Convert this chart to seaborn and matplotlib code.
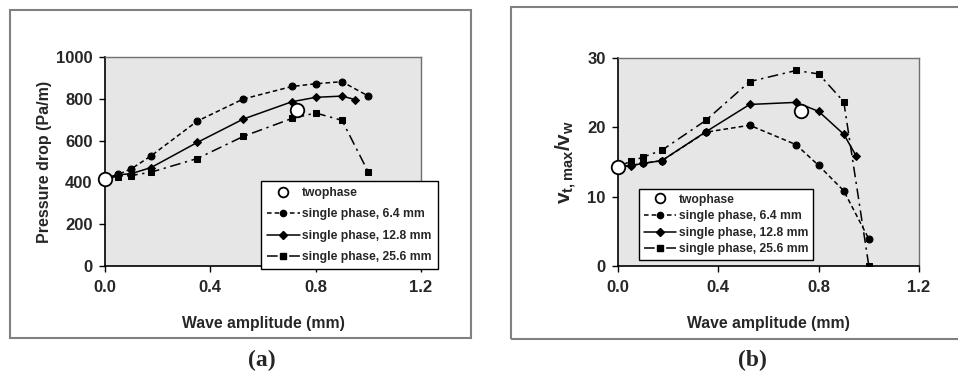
import matplotlib
matplotlib.use("Agg")
import matplotlib.pyplot as plt
from matplotlib.patches import Rectangle
from matplotlib.lines import Line2D
import seaborn as sns
import pandas as pd

# ---------------- data ----------------
amp_64 = [0.0, 0.05, 0.10, 0.175, 0.35, 0.525, 0.71, 0.80, 0.90, 1.00]
amp_128 = [0.0, 0.05, 0.10, 0.175, 0.35, 0.525, 0.71, 0.80, 0.90, 0.95]
amp_256 = [0.0, 0.05, 0.10, 0.175, 0.35, 0.525, 0.71, 0.80, 0.90, 1.00]
amp_two = [0.0, 0.73]

dp_64 = [420, 438, 465, 527, 693, 799, 859, 872, 882, 813]
dp_128 = [420, 436, 442, 471, 591, 703, 786, 807, 813, 796]
dp_256 = [420, 428, 433, 449, 514, 620, 706, 732, 697, 449]
dp_two = [417, 748]

vr_64 = [14.3, 14.5, 14.8, 15.2, 19.3, 20.3, 17.5, 14.5, 10.85, 3.9]
vr_128 = [14.3, 14.45, 14.8, 15.2, 19.35, 23.3, 23.6, 22.3, 19.0, 15.85]
vr_256 = [14.3, 15.1, 15.7, 16.7, 21.0, 26.6, 28.2, 27.7, 23.7, 0.0]
vr_two = [14.3, 22.4]

labels = ["twophase", "single phase, 6.4 mm", "single phase, 12.8 mm", "single phase, 25.6 mm"]
xticks = [0.0, 0.4, 0.8, 1.2]
yticks_a = [0, 200, 400, 600, 800, 1000]
yticks_b = [0, 10, 20, 30]

# ---------------- style ----------------
sns.set_theme(style="white")
plt.rcParams['font.family'] = ['Liberation Sans', 'DejaVu Sans']
plt.rcParams['font.weight'] = 'bold'
plt.rcParams['mathtext.fontset'] = 'custom'
plt.rcParams['mathtext.rm'] = 'Liberation Sans:bold'
plt.rcParams['mathtext.bf'] = 'Liberation Sans:bold'
plt.rcParams['mathtext.it'] = 'Liberation Sans:bold'

W, H = 958, 378
fig = plt.figure(figsize=(W / 100, H / 100), dpi=100)
fig.patch.set_facecolor('white')

def fx(px):
    return px / W

def fy(py):
    return 1 - py / H

# outer panel frames
fig.patches.append(Rectangle((fx(10), fy(338)), fx(461), 328 / H, transform=fig.transFigure,
                             fill=False, edgecolor='#808080', linewidth=1.5))
fig.patches.append(Rectangle((fx(511), fy(339)), fx(470), 332 / H, transform=fig.transFigure,
                             fill=False, edgecolor='#808080', linewidth=1.5))

ax_a = fig.add_axes([fx(105), fy(266), fx(316), 209 / H])
ax_b = fig.add_axes([fx(618), fy(266), fx(301), 208 / H])

styles = {
    "64": dict(linestyle=(0, (3, 2)), marker='o', markersize=5),
    "128": dict(linestyle='-', marker='D', markersize=4.5),
    "256": dict(linestyle=(0, (7, 3, 1.5, 3)), marker='s', markersize=5),
}

def draw(ax, xs, ys, two_x, two_y, ylim, yticks):
    ax.set_facecolor('#e6e6e6')
    for (key, x, y) in zip(["64", "128", "256"], xs, ys):
        df = pd.DataFrame({"x": x, "y": y})
        st = styles[key]
        sns.lineplot(data=df, x="x", y="y", ax=ax, color='black', linewidth=1.1,
                     linestyle=st['linestyle'], marker=st['marker'], markersize=st['markersize'],
                     markeredgecolor='black', markerfacecolor='black', sort=False, zorder=3)
    df2 = pd.DataFrame({"x": two_x, "y": two_y})
    sns.scatterplot(data=df2, x="x", y="y", ax=ax, s=95, facecolor='white', edgecolor='black',
                    linewidth=1.3, zorder=5, clip_on=False)
    ax.set_xlim(0, 1.2)
    ax.set_ylim(*ylim)
    ax.set_xticks(xticks)
    ax.set_xticklabels([f"{t:.1f}" for t in xticks], fontsize=12, fontweight='bold')
    ax.set_yticks(yticks)
    ax.set_yticklabels([str(t) for t in yticks], fontsize=12, fontweight='bold')
    ax.tick_params(axis='x', direction='out', length=4, width=1, color='black', bottom=True, pad=6)
    ax.tick_params(axis='y', direction='out', length=4, width=1, color='black', left=True, pad=5)
    for s in ['left', 'bottom']:
        ax.spines[s].set_color('black')
        ax.spines[s].set_linewidth(1.2)
    for s in ['top', 'right']:
        ax.spines[s].set_color('#707070')
        ax.spines[s].set_linewidth(1.0)
    ax.set_xlabel("Wave amplitude (mm)", fontsize=11.3, fontweight='bold', labelpad=15)

draw(ax_a, [amp_64, amp_128, amp_256], [dp_64, dp_128, dp_256], amp_two, dp_two, (0, 1000), yticks_a)
draw(ax_b, [amp_64, amp_128, amp_256], [vr_64, vr_128, vr_256], amp_two, vr_two, (0, 30), yticks_b)

ax_a.set_ylabel("Pressure drop (Pa/m)", fontsize=11.5, fontweight='bold', labelpad=3)
ax_b.set_ylabel(r"$\mathbf{v}_{\mathrm{t,max}}/\mathbf{v}_{\mathrm{w}}$", fontsize=15, labelpad=6)

def handles():
    h = [Line2D([], [], linestyle='none', marker='o', markersize=7, markerfacecolor='white',
                markeredgecolor='black', markeredgewidth=1.3)]
    for key in ["64", "128", "256"]:
        st = styles[key]
        h.append(Line2D([], [], color='black', linewidth=1.1, linestyle=st['linestyle'],
                        marker=st['marker'], markersize=st['markersize'] * 0.9,
                        markerfacecolor='black', markeredgecolor='black'))
    return h

leg_a = fig.legend(handles(), labels, loc='upper left', bbox_to_anchor=(fx(261), fy(181)),
                   bbox_transform=fig.transFigure, prop={'size': 8.7, 'weight': 'bold'},
                   frameon=True, fancybox=False, edgecolor='black', framealpha=1,
                   handlelength=2.7, handletextpad=0.2, labelspacing=0.78, borderpad=0.5,
                   numpoints=1, borderaxespad=0)
leg_a.get_frame().set_linewidth(1.0)
leg_b = fig.legend(handles(), labels, loc='upper left', bbox_to_anchor=(fx(639), fy(189)),
                   bbox_transform=fig.transFigure, prop={'size': 8.7, 'weight': 'bold'},
                   frameon=True, fancybox=False, edgecolor='black', framealpha=1,
                   handlelength=2.7, handletextpad=0.2, labelspacing=0.38, borderpad=0.38,
                   numpoints=1, borderaxespad=0)
leg_b.get_frame().set_linewidth(1.0)

fig.text(fx(262), fy(360), "(a)", ha='center', va='center', fontsize=17, fontweight='bold',
         family=['Liberation Serif', 'DejaVu Serif'])
fig.text(fx(752), fy(360), "(b)", ha='center', va='center', fontsize=17, fontweight='bold',
         family=['Liberation Serif', 'DejaVu Serif'])

fig.savefig("out.png", dpi=100, facecolor='white')
